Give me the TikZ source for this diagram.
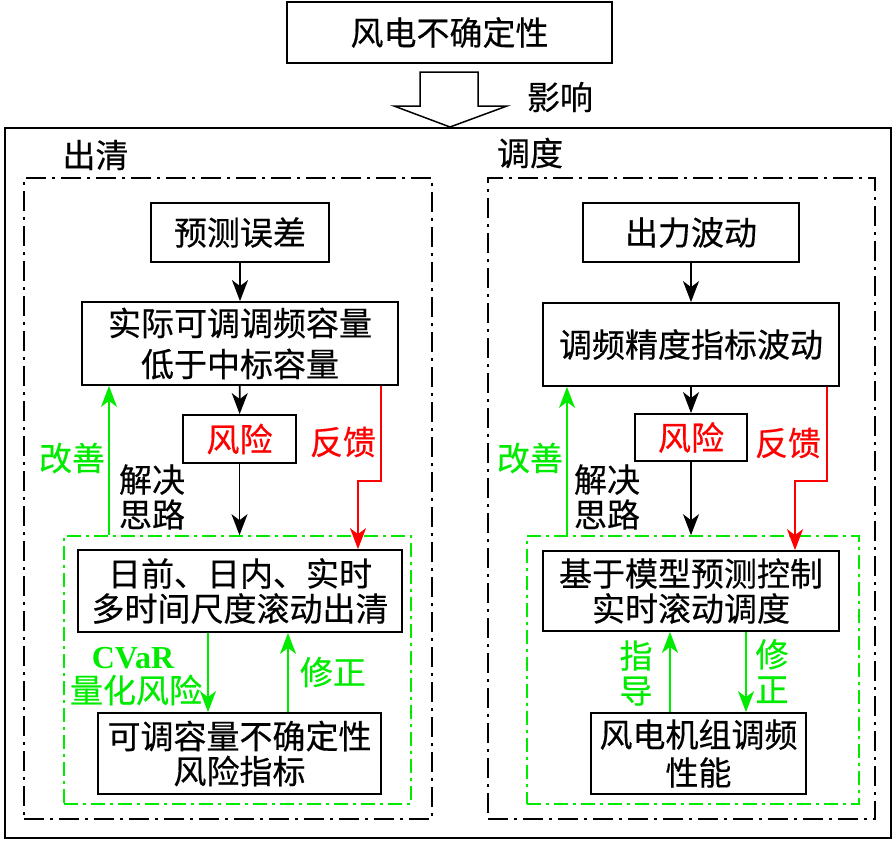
\documentclass[tikz,border=0pt]{standalone}
\usepackage{fontspec}
\setmainfont{Noto Sans CJK SC}
\newfontfamily\cjk[FakeBold=0.4]{Noto Sans CJK SC}
\newfontfamily\tnr{Liberation Serif}
\usepackage{xcolor}
\usepackage{tikz}
\usetikzlibrary{arrows.meta,positioning}
\definecolor{fgreen}{RGB}{0,235,0}
\definecolor{fred}{RGB}{255,0,0}

\begin{document}
\begin{tikzpicture}[
    x=1pt,y=-1pt,
    box/.style={rectangle,draw=black,line width=1.8pt,inner sep=0pt,
                align=center,font=\cjk\fontsize{33}{35}\selectfont},
    area/.style={rectangle,draw=black,line width=1.6pt,inner sep=0pt,
                 dash pattern=on 20pt off 6pt on 3pt off 6pt},
    garea/.style={rectangle,draw=fgreen,line width=1.6pt,inner sep=0pt,
                  dash pattern=on 14pt off 5pt on 3pt off 5pt},
    lbl/.style={inner sep=0pt,align=center,font=\cjk\fontsize{33}{35}\selectfont},
    arr/.style={line width=1.6pt,-{Stealth[length=21pt,width=16pt,inset=6pt]}},
    garr/.style={arr,draw=fgreen,fgreen},
    fb/.style={arr,draw=fred,fred}
  ]
    \useasboundingbox (0,0) rectangle (896,841);
    % Top: source of uncertainty
    \node[box,minimum width=325pt,minimum height=61pt] (wind) at (449.5,32.5) {风电不确定性};
    \draw[line width=1.5pt,fill=white] (420,72) -- (478,72) -- (478,106) -- (507,106)
      -- (450,127) -- (394,106) -- (420,106) -- cycle;
    \node[lbl] (eff) at (560,97) {影响};
    \draw[line width=1.8pt] (5,128) rectangle (891,838);
    \node[lbl] (tclr) at (95.5,155) {出清};
    \node[lbl] (tdsp) at (530,153) {调度};

    % Left: clearing
    \node[area,minimum width=408pt,minimum height=641pt] (areaL) at (228,498.5) {};
    \node[garea,minimum width=347pt,minimum height=268pt] (gL) at (237.5,670) {};
    \node[box,minimum width=178pt,minimum height=59pt] (err) at (240,232.5) {预测误差};
    \node[box,minimum width=316pt,minimum height=83pt] (act) at (240,343.5) {实际可调调频容量\\[6pt]低于中标容量};
    \node[box,minimum width=113pt,minimum height=48pt,text=fred] (riskL) at (239.5,439) {风险};
    \node[box,minimum width=324pt,minimum height=82pt] (clr) at (240,591) {日前、日内、实时\\多时间尺度滚动出清};
    \node[box,minimum width=283pt,minimum height=81pt] (idx) at (239.5,753.5) {可调容量不确定性\\风险指标};

    % Right: dispatch
    \node[area,minimum width=387pt,minimum height=641pt] (areaR) at (681.5,498.5) {};
    \node[garea,minimum width=332pt,minimum height=268pt] (gR) at (693,670) {};
    \node[box,minimum width=216pt,minimum height=59pt] (fluc) at (691,232.5) {出力波动};
    \node[box,minimum width=296pt,minimum height=83pt] (prec) at (691,344.5) {调频精度指标波动};
    \node[box,minimum width=112pt,minimum height=47pt,text=fred] (riskR) at (691,437.5) {风险};
    \node[box,minimum width=296pt,minimum height=80pt] (mpc) at (691,591) {基于模型预测控制\\实时滚动调度};
    \node[box,minimum width=215pt,minimum height=81pt] (wtg) at (698.5,753.5) {风电机组调频\\[3pt]性能};

    % Labels
    \node[lbl,text=fgreen] (impL) at (72,458) {改善};
    \node[lbl] (solL) at (152,497) {解决\\思路};
    \node[lbl,text=fred] (fbL) at (343,442) {反馈};
    \node[inner sep=0pt,text=fgreen,font=\tnr\bfseries\fontsize{32}{35}\selectfont] (cvar) at (133,658) {CVaR};
    \node[lbl,text=fgreen] (quant) at (136,690) {量化风险};
    \node[lbl,text=fgreen] (corL) at (333,672) {修正};
    \node[lbl,text=fgreen] (impR) at (530,458) {改善};
    \node[lbl] (solR) at (607,497) {解决\\思路};
    \node[lbl,text=fred] (fbR) at (788,443) {反馈};
    \node[lbl,text=fgreen] (guide) at (636,673) {指\\导};
    \node[lbl,text=fgreen] (corR) at (772,671) {修\\正};

    % Arrows left
    \draw[arr] (err) -- (act);
    \draw[arr] (act) -- (riskL);
    \draw[arr] (riskL) -- (gL.north -| riskL);
    \draw[garr] (gL.north -| 109,0) -- (act.south -| 109,0);
    \coordinate (fbLa) at (358,481);
    \draw[fb] (act.south -| 381,0) |- (fbLa) -- (clr.north -| fbLa);
    \draw[garr] (clr.south -| 208,0) -- (idx.north -| 208,0);
    \draw[garr] (idx.north -| 288,0) -- (clr.south -| 288,0);

    % Arrows right
    \draw[arr] (fluc) -- (prec);
    \draw[arr] (prec) -- (riskR);
    \draw[arr] (riskR) -- (gR.north -| riskR);
    \draw[garr] (gR.north -| 567,0) -- (prec.south -| 567,0);
    \coordinate (fbRa) at (795,481);
    \draw[fb] (prec.south -| 827,0) |- (fbRa) -- (mpc.north -| fbRa);
    \draw[garr] (wtg.north -| 670,0) -- (mpc.south -| 670,0);
    \draw[garr] (mpc.south -| 746,0) -- (wtg.north -| 746,0);
  \end{tikzpicture}
\end{document}
